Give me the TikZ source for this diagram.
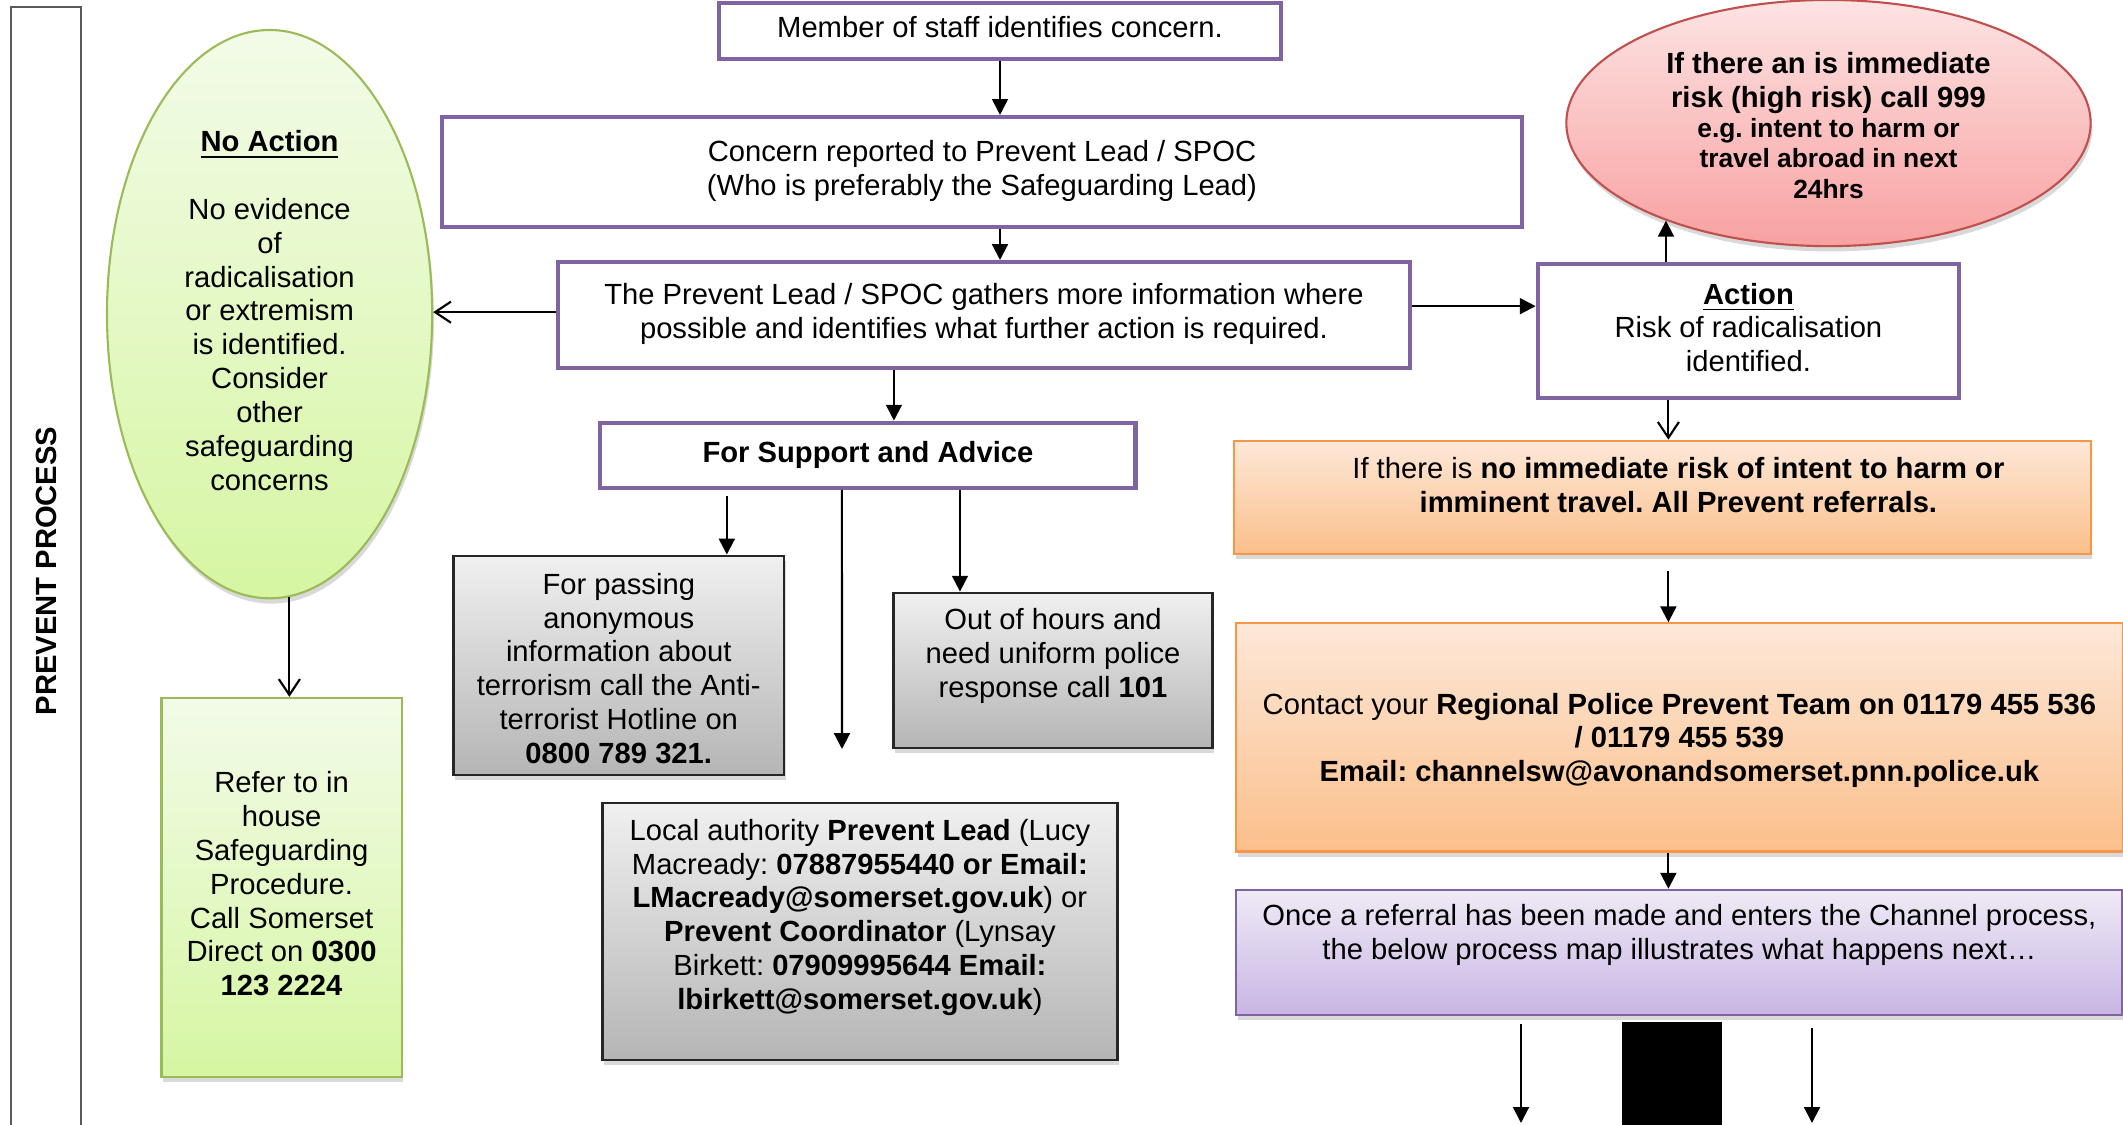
\documentclass[tikz,border=0pt]{standalone}
\usepackage{fontspec}
\setmainfont{Liberation Sans}
\usepackage{tikz}
\usetikzlibrary{arrows.meta,shapes.geometric,shadows}
\usetikzlibrary{positioning}
\frenchspacing

\definecolor{accentpurple}{HTML}{8064A2}
\definecolor{greentop}{HTML}{F2FBE8}
\definecolor{greenbot}{HTML}{D6F6A2}
\definecolor{greenline}{HTML}{9BBB59}
\definecolor{redtop}{HTML}{FDE3E3}
\definecolor{redbot}{HTML}{F8A1A1}
\definecolor{redline}{HTML}{C0504D}
\definecolor{orangetop}{HTML}{FDE8D8}
\definecolor{orangebot}{HTML}{FBBF8B}
\definecolor{orangeline}{HTML}{F79646}
\definecolor{lilactop}{HTML}{EFEAF6}
\definecolor{lilacbot}{HTML}{C8B5E3}
\definecolor{greytop}{HTML}{F0F0F0}
\definecolor{greybot}{HTML}{B5B5B5}
\definecolor{laneline}{HTML}{595959}

\tikzset{
    pbox/.style={
           rectangle,
           draw=accentpurple, line width=1.2pt,
           fill=white,
           inner sep=2pt,
           font=\fontsize{8.3}{9.63}\selectfont,
           },
    gbox/.style={
           rectangle,
           draw=black!85, line width=0.7pt,
           top color=greytop, bottom color=greybot,
           drop shadow={shadow xshift=0.5pt, shadow yshift=-1.5pt, opacity=0.3},
           inner sep=2pt,
           font=\fontsize{8.3}{9.63}\selectfont,
           },
    obox/.style={
           rectangle,
           draw=orangeline, line width=0.6pt,
           top color=orangetop, bottom color=orangebot,
           drop shadow={shadow xshift=0.5pt, shadow yshift=-1.5pt, opacity=0.3},
           inner sep=2pt,
           font=\fontsize{8.3}{9.63}\selectfont,
           },
    lbox/.style={
           rectangle,
           draw=accentpurple, line width=0.7pt,
           top color=lilactop, bottom color=lilacbot,
           drop shadow={shadow xshift=0.5pt, shadow yshift=-1.5pt, opacity=0.3},
           inner sep=2pt,
           font=\fontsize{8.3}{9.63}\selectfont,
           },
    bubble/.style={
           ellipse,
           line width=0.6pt,
           inner sep=0pt,
           drop shadow={shadow xshift=0.5pt, shadow yshift=-1.5pt, opacity=0.3},
           font=\fontsize{8.3}{9.63}\selectfont,
           },
    lane/.style={
           rectangle,
           draw=laneline, line width=0.6pt,
           font=\fontsize{8.3}{9.63}\selectfont\bfseries,
           },
    flow/.style={-{Triangle[length=4.5pt,width=4.5pt]}, line width=0.6pt},
    openflow/.style={-{Straight Barb[length=4.5pt,width=6pt]}, line width=0.6pt},
}

\begin{document}
\begin{tikzpicture}[x=0.01cm, y=-0.01cm]
        \useasboundingbox (0,0) rectangle (2123,1125);

        % STAFF CONCERN (top of the flow)
        \node[pbox,
            minimum width=5.62cm,
            minimum height=0.56cm] (MEMBER) at (1000,31)
        {\begin{tabular}{@{}c@{}}
            Member of staff identifies concern.
        \end{tabular}};

        % REPORTED
        \node[pbox,
            minimum width=10.79cm,
            minimum height=1.10cm,
            below of=MEMBER,
            node distance=1.41cm,
            xshift=-0.18cm,
            anchor=center] (CONCERN)
        {\begin{tabular}{@{}c@{}}
            Concern reported to Prevent Lead / SPOC\\
            (Who is preferably the Safeguarding Lead)
        \end{tabular}};

        % GATHER INFO
        \node[pbox,
            minimum width=8.51cm,
            minimum height=1.06cm,
            below of=CONCERN,
            node distance=1.43cm,
            xshift=0.02cm,
            anchor=center] (GATHER)
        {\begin{tabular}{@{}c@{}}
            The Prevent Lead / SPOC gathers more information where\\
            possible and identifies what further action is required.
        \end{tabular}};

        % SUPPORT AND ADVICE
        \node[pbox,
            minimum width=5.35cm,
            minimum height=0.65cm,
            below of=GATHER,
            node distance=1.40cm,
            xshift=-1.16cm,
            anchor=center] (SUPPORT)
        {\begin{tabular}{@{}c@{}}
            \textbf{For Support and Advice}
        \end{tabular}};

        % HOTLINE
        \node[gbox,
            inner sep=0pt,
            minimum width=3.30cm,
            minimum height=2.19cm,
            below of=SUPPORT,
            node distance=2.10cm,
            xshift=-2.49cm,
            anchor=center] (ANON)
        {\begin{tabular}{@{}c@{}}
            ~\\[-5.8pt]
            For passing\\
            anonymous\\
            information about\\
            terrorism call the Anti-\\
            terrorist Hotline on\\
            \textbf{0800 789 321.}
        \end{tabular}};

        % OUT OF HOURS
        \node[gbox,
            minimum width=3.19cm,
            minimum height=1.55cm,
            right of=ANON,
            node distance=4.34cm,
            yshift=-0.05cm,
            anchor=center] (HOURS)
        {\begin{tabular}{@{}c@{}}
            Out of hours and\\
            need uniform police\\
            response call \textbf{101}\\[-2pt]
            ~
        \end{tabular}};

        % LOCAL AUTHORITY
        \node[gbox,
            minimum width=5.15cm,
            minimum height=2.57cm,
            below of=SUPPORT,
            node distance=4.76cm,
            xshift=-0.08cm,
            anchor=center] (LOCAL)
        {\begin{tabular}{@{}c@{}}
            Local authority \textbf{Prevent Lead} (Lucy\\
            Macready: \textbf{07887955440 or Email:}\\
            \textbf{LMacready@somerset.gov.uk}) or\\
            \textbf{Prevent Coordinator} (Lynsay\\
            Birkett: \textbf{07909995644 Email:}\\
            \textbf{lbirkett@somerset.gov.uk})\\[-2pt]
            ~
        \end{tabular}};

        % NO ACTION
        \node[bubble,
            draw=greenline,
            top color=greentop, bottom color=greenbot,
            minimum width=3.25cm,
            minimum height=5.68cm,
            left of=GATHER,
            node distance=7.14cm,
            yshift=0.01cm,
            anchor=center] (NOACT)
        {\begin{tabular}{@{}c@{}}
            \underline{\textbf{No Action}}\\
            ~\\
            No evidence\\
            of\\
            radicalisation\\
            or extremism\\
            is identified.\\
            Consider\\
            other\\
            safeguarding\\
            concerns
        \end{tabular}};

        % IN HOUSE
        \node[rectangle,
            draw=greenline, line width=0.6pt,
            top color=greentop, bottom color=greenbot,
            drop shadow={shadow xshift=0.5pt, shadow yshift=-1.5pt, opacity=0.3},
            inner sep=2pt,
            font=\fontsize{8.3}{9.63}\selectfont,
            minimum width=2.40cm,
            minimum height=3.79cm,
            below of=NOACT,
            node distance=5.73cm,
            xshift=0.12cm,
            anchor=center] (REFER)
        {\begin{tabular}{@{}c@{}}
            Refer to in\\
            house\\
            Safeguarding\\
            Procedure.\\
            Call Somerset\\
            Direct on \textbf{0300}\\
            \textbf{123 2224}
        \end{tabular}};

        % ACTION
        \node[pbox,
            minimum width=4.21cm,
            minimum height=1.34cm,
            right of=GATHER,
            node distance=7.64cm,
            yshift=-0.16cm,
            anchor=center] (ACTION)
        {\begin{tabular}{@{}c@{}}
            \underline{\textbf{Action}}\\
            Risk of radicalisation\\
            identified.
        \end{tabular}};

        % HIGH RISK
        \node[bubble,
            draw=redline,
            top color=redtop, bottom color=redbot,
            minimum width=5.24cm,
            minimum height=2.46cm,
            above of=ACTION,
            node distance=2.08cm,
            xshift=0.80cm,
            anchor=center] (RED)
        {\begin{tabular}{@{}c@{}}
            ~\\[-6.2pt]
            \textbf{If there an is immediate}\\
            \textbf{risk (high risk) call 999}\\[-1pt]
            {\fontsize{7.5}{8.7}\selectfont\textbf{e.g. intent to harm or}}\\[-1pt]
            {\fontsize{7.5}{8.7}\selectfont\textbf{travel abroad in next}}\\[-1pt]
            {\fontsize{7.5}{8.7}\selectfont\textbf{24hrs}}
        \end{tabular}};

        % NO IMMEDIATE RISK
        \node[obox,
            minimum width=8.56cm,
            minimum height=1.13cm,
            below of=ACTION,
            node distance=1.66cm,
            xshift=-0.86cm,
            anchor=center] (NORISK)
        {\begin{tabular}{@{\hspace{0.32cm}}c@{}}
            If there is \textbf{no immediate risk of intent to harm or}\\
            \textbf{imminent travel. All Prevent referrals.}\\[-4.9pt]
            ~
        \end{tabular}};

        % REGIONAL POLICE
        \node[obox,
            minimum width=8.86cm,
            minimum height=2.28cm,
            below of=NORISK,
            node distance=2.40cm,
            xshift=0.17cm,
            anchor=center] (CONTACT)
        {\begin{tabular}{@{}c@{}}
            ~\\[-7.5pt]
            Contact your \textbf{Regional Police Prevent Team on 01179 455 536}\\
            \textbf{/ 01179 455 539}\\
            \textbf{Email: channelsw@avonandsomerset.pnn.police.uk}
        \end{tabular}};

        % CHANNEL
        \node[lbox,
            minimum width=8.86cm,
            minimum height=1.25cm,
            below of=CONTACT,
            node distance=2.15cm,
            anchor=center] (CHANNEL)
        {\begin{tabular}{@{}c@{}}
            Once a referral has been made and enters the Channel process,\\
            the below process map illustrates what happens next…\\
            ~
        \end{tabular}};

        % block below channel
        \node[rectangle, fill=black,
            minimum width=1.00cm,
            minimum height=1.10cm,
            below of=CHANNEL,
            node distance=1.24cm,
            xshift=-0.07cm,
            anchor=center] (BLOCK) {};

        % side label
        \node[lane, rotate=90,
            minimum width=11.28cm,
            minimum height=0.70cm] (LANE) at (46,571) {PREVENT PROCESS};

        % free ends
        \coordinate (SPINE) at ([xshift=-0.80cm]ACTION.south);
        \coordinate (DROP) at (842,749);
        \coordinate (NEXTL) at (1521,1123);
        \coordinate (NEXTR) at (1812,1123);

        % draw the paths
        \path
            (MEMBER)                          edge[flow] (MEMBER |- CONCERN.north)
            (MEMBER |- CONCERN.south)         edge[flow] (MEMBER |- GATHER.north)
            ([xshift=0.26cm]SUPPORT.north |- GATHER.south) edge[flow] ([xshift=0.26cm]SUPPORT.north)
            ([yshift=0.03cm]GATHER.west)      edge[openflow] ([yshift=0.03cm]GATHER.west -| NOACT.east)
            ([yshift=0.09cm]GATHER.east)      edge[flow] ([yshift=0.09cm]GATHER.east -| ACTION.west)
            (NOACT.274.7)                     edge[openflow] (NOACT.274.7 |- REFER.north)
            ([xshift=-1.41cm,yshift=-0.06cm]SUPPORT.south) edge[flow] ([xshift=-1.41cm]SUPPORT.south |- ANON.north)
            ([xshift=-0.26cm]SUPPORT.south)   edge[flow] (DROP)
            ([xshift=0.92cm]SUPPORT.south)    edge[flow] ([xshift=0.92cm]SUPPORT.south |- HOURS.north)
            (ACTION.north -| RED.211.5)       edge[flow] (RED.211.5)
            (SPINE)                           edge[openflow] (SPINE |- NORISK.north)
            ([yshift=-0.16cm]SPINE |- NORISK.south) edge[flow] (SPINE |- CONTACT.north)
            (SPINE |- CONTACT.south)          edge[flow] (SPINE |- CHANNEL.north)
            ([yshift=-0.08cm]NEXTL |- CHANNEL.south) edge[flow] (NEXTL)
            ([yshift=-0.12cm]NEXTR |- CHANNEL.south) edge[flow] (NEXTR)
            ;

\end{tikzpicture}
\end{document}
